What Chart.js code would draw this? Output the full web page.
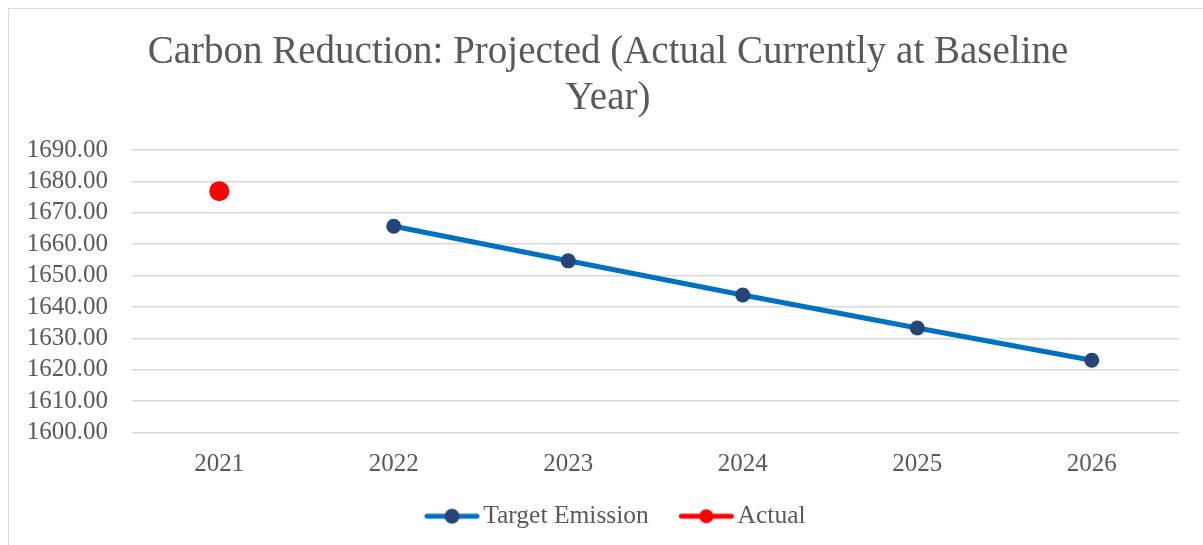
<!DOCTYPE html>
<html>
<head>
<meta charset="utf-8">
<script src="https://cdn.jsdelivr.net/npm/chart.js@4"></script>
<style>
  html, body { margin: 0; padding: 0; background: #fff; overflow: hidden; }
  #frame { position: absolute; left: 8px; top: 8px; width: 1300px; height: 700px; border: 1px solid #d9d9d9; }
  #wrap { position: absolute; left: 0; top: 0; width: 1203px; height: 545px; }
</style>
</head>
<body>
<div id="frame"></div>
<div id="wrap"><canvas id="chart" width="1203" height="545"></canvas></div>
<script>
/* ---------- DATA ---------- */
const years = ["2021", "2022", "2023", "2024", "2025", "2026"];
const targetEmission = [null, 1665.7, 1654.7, 1643.8, 1633.3, 1623.0];
const actual = [1676.9, null, null, null, null, null];
const titleLines = ["Carbon Reduction: Projected (Actual Currently at Baseline", "Year)"];
const yMin = 1600;
const yMax = 1690;
const yStep = 10;

const TEXT = "#595959";
const FONT = "'Liberation Serif', 'Times New Roman', serif";

/* ---------- LEGEND SYMBOL (line with dot, Excel style) ---------- */
function legendSymbol(lineColor, dotColor, r) {
  const c = document.createElement("canvas");
  c.width = 80;
  c.height = 24;
  const g = c.getContext("2d");
  const y = 12;
  g.strokeStyle = lineColor;
  g.lineWidth = 5;
  g.lineCap = "round";
  g.beginPath();
  g.moveTo(23.5, y);
  g.lineTo(73.5, y);
  g.stroke();
  g.fillStyle = dotColor;
  g.beginPath();
  g.arc(48.5, y, r, 0, Math.PI * 2);
  g.fill();
  return c;
}

const symTarget = legendSymbol("#0070C0", "#264478", 7.5);
const symActual = legendSymbol("#FF0000", "#FF0000", 7);

// nudge title + legend a little right, like the Excel layout
const shiftBoxes = {
  id: "shiftBoxes",
  afterLayout(chart) {
    if (chart.titleBlock) chart.titleBlock.left += 10;
    if (chart.legend) chart.legend.left += 16;
  }
};

/* ---------- CHART ---------- */
new Chart(document.getElementById("chart"), {
  type: "line",
  data: {
    labels: years,
    datasets: [
      {
        label: "Target Emission",
        data: targetEmission,
        borderColor: "#0070C0",
        borderWidth: 5,
        pointRadius: 7.5,
        pointBackgroundColor: "#264478",
        pointBorderWidth: 0,
        legendSymbol: symTarget
      },
      {
        label: "Actual",
        data: actual,
        borderColor: "#FF0000",
        borderWidth: 5,
        pointRadius: 10,
        pointBackgroundColor: "#FF0000",
        pointBorderWidth: 0,
        legendSymbol: symActual
      }
    ]
  },
  plugins: [shiftBoxes],
  options: {
    responsive: false,
    animation: false,
    layout: { padding: { left: 27, right: 24, top: 0, bottom: 6 } },
    plugins: {
      title: {
        display: true,
        text: titleLines,
        color: TEXT,
        font: { family: FONT, size: 39, weight: "normal", lineHeight: 1.18 },
        padding: { top: 30, bottom: 28 }
      },
      legend: {
        position: "bottom",
        labels: {
          color: TEXT,
          font: { family: FONT, size: 25.5 },
          usePointStyle: true,
          pointStyleWidth: 54,
          padding: 22,
          generateLabels(chart) {
            return chart.data.datasets.map((ds, i) => ({
              text: ds.label,
              pointStyle: ds.legendSymbol,
              fontColor: TEXT,
              datasetIndex: i,
              lineWidth: 0,
              hidden: false
            }));
          }
        }
      },
      tooltip: { enabled: false }
    },
    scales: {
      x: {
        offset: true,
        grid: { display: false, drawTicks: false },
        border: { display: false },
        ticks: { color: TEXT, font: { family: FONT, size: 25 }, padding: 17, autoSkip: false, maxRotation: 0 },
        afterFit(scale) { scale.height = scale.height - 15; }
      },
      y: {
        min: yMin,
        max: yMax,
        grid: { color: "#d9d9d9", lineWidth: 1.5, drawTicks: false },
        border: { display: false },
        ticks: {
          stepSize: yStep,
          autoSkip: false,
          color: TEXT,
          font: { family: FONT, size: 25 },
          padding: 24,
          callback: v => v.toFixed(2)
        },
        afterFit(scale) { scale.width = 105; }
      }
    }
  }
});
</script>
</body>
</html>
